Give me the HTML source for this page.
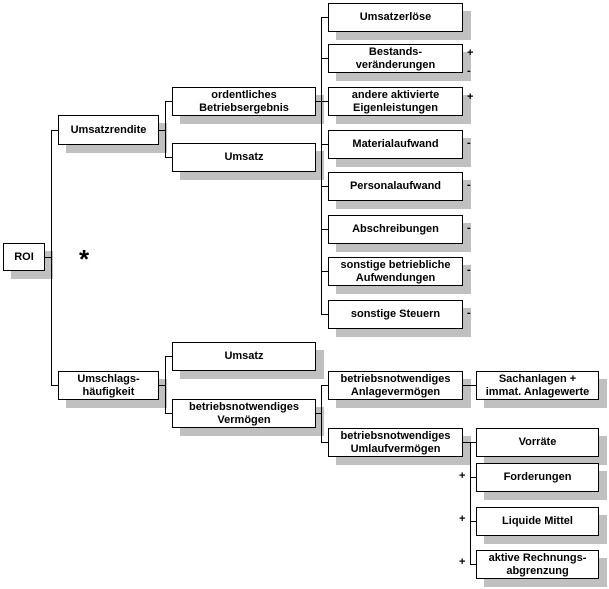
<!DOCTYPE html>
<html><head><meta charset="utf-8"><style>
body{margin:0;width:609px;height:589px;background:#fff;position:relative;overflow:hidden;font-family:"Liberation Sans",Arial,sans-serif;}
.s{position:absolute;background:#c0c0c0;}
.b{position:absolute;box-sizing:border-box;border:1px solid #000;background:#fff;display:flex;align-items:center;justify-content:center;text-align:center;font-weight:bold;font-size:11px;line-height:13px;color:#000;}
.h{position:absolute;height:1px;background:#000;}
.v{position:absolute;width:1px;background:#000;}
.t{position:absolute;font-weight:bold;font-size:11px;line-height:11px;}
</style></head><body>
<div id="c"></div>
<script>
const boxes=[
[3,243,42,28,"ROI"],
[58,115,101,30,"Umsatzrendite"],
[58,371,101,29,"Umschlags-<br>häufigkeit"],
[172,87,144,29,"ordentliches<br>Betriebsergebnis"],
[172,143,144,29,"Umsatz"],
[172,342,144,29,"Umsatz"],
[172,399,144,29,"betriebsnotwendiges<br>Vermögen"],
[328,3,135,29,"Umsatzerlöse"],
[328,44,135,29,"Bestands-<br>veränderungen"],
[328,87,135,29,"andere aktivierte<br>Eigenleistungen"],
[328,130,135,29,"Materialaufwand"],
[328,172,135,29,"Personalaufwand"],
[328,215,135,29,"Abschreibungen"],
[328,257,135,29,"sonstige betriebliche<br>Aufwendungen"],
[328,300,135,29,"sonstige Steuern"],
[328,371,135,29,"betriebsnotwendiges<br>Anlagevermögen"],
[328,428,135,29,"betriebsnotwendiges<br>Umlaufvermögen"],
[476,371,123,29,"Sachanlagen +<br>immat. Anlagewerte"],
[476,428,123,29,"Vorräte"],
[476,463,123,29,"Forderungen"],
[476,507,123,29,"Liquide Mittel"],
[476,550,123,29,"aktive Rechnungs-<br>abgrenzung"]];
let h="";
for(const[x,y,w,hh] of boxes)h+=`<div class="s" style="left:${x+8}px;top:${y+8}px;width:${w}px;height:${hh}px"></div>`;
const lines=[
// v: x,y1,y2 ; h: y,x1,x2
['v',51,130,385],['h',257,45,51],['h',130,51,58],['h',385,51,58],
['v',165,101,157],['h',130,159,165],['h',101,165,172],['h',157,165,172],
['v',165,356,413],['h',385,159,165],['h',356,165,172],['h',413,165,172],
['v',321,17,314],['h',101,316,321],
['h',17,321,328],['h',58,321,328],['h',101,321,328],['h',144,321,328],['h',186,321,328],['h',229,321,328],['h',271,321,328],['h',314,321,328],
['v',321,385,442],['h',413,316,321],['h',385,321,328],['h',442,321,328],
['h',385,463,476],
['v',470,442,564],['h',442,463,476],['h',477,470,476],['h',521,470,476],['h',564,470,476]];
for(const l of lines){
 if(l[0]=='v')h+=`<div class="v" style="left:${l[1]}px;top:${l[2]}px;height:${l[3]-l[2]+1}px"></div>`;
 else h+=`<div class="h" style="top:${l[1]}px;left:${l[2]}px;width:${l[3]-l[2]+1}px"></div>`;
}
for(const[x,y,w,hh,t] of boxes)h+=`<div class="b" style="left:${x}px;top:${y}px;width:${w}px;height:${hh}px">${t}</div>`;
const signs=[[467,48,"+"],[467,66,"-"],[467,92,"+"],[467,138,"-"],[467,180,"-"],[467,223,"-"],[467,265,"-"],[467,308,"-"],[459,471,"+"],[459,514,"+"],[459,557,"+"]];
for(const[x,y,t] of signs)h+=`<div class="t" style="left:${x}px;top:${y}px">${t}</div>`;
h+=`<div style="position:absolute;left:79px;top:246px;font-size:26px;font-weight:bold;line-height:26px">*</div>`;
document.getElementById('c').innerHTML=h;
</script>
</body></html>
